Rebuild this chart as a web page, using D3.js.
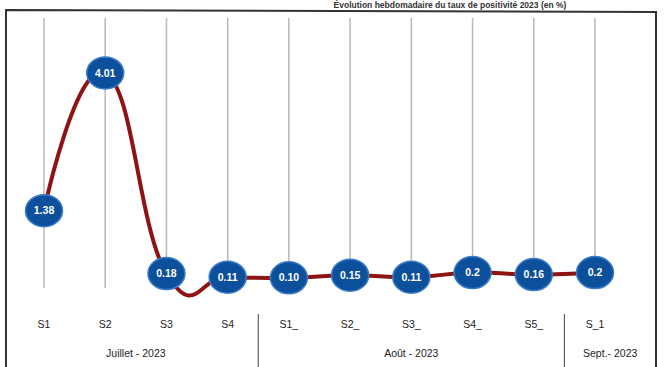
<!DOCTYPE html>
<html><head><meta charset="utf-8">
<script src="https://cdn.jsdelivr.net/npm/d3@7"></script>
<style>body{margin:0;background:#fff}svg{display:block}</style>
</head><body>
<svg id="c" width="665" height="367"></svg>
<script>
const categories = ["S1","S2","S3","S4","S1_","S2_","S3_","S4_","S5_","S_1"];
const values = [1.38, 4.01, 0.18, 0.11, 0.10, 0.15, 0.11, 0.2, 0.16, 0.2];
const valueLabels = ["1.38","4.01","0.18","0.11","0.10","0.15","0.11","0.2","0.16","0.2"];
const groups = ["Juillet - 2023","Août - 2023","Sept.- 2023"];
const groupStarts = [0, 4, 9];
const groupEnds = [3, 8, 9];
const titleText = "Évolution hebdomadaire du taux de positivité 2023 (en %)";

const svg = d3.select("#c");
const font = "'Liberation Sans', Arial, sans-serif";

const x = d3.scalePoint().domain(categories).range([44, 595]);
const step = x.step();
const y = d3.scaleLinear().domain([0, 4.2]).range([283, 63]);

// title (reference shows it mostly cut at the top)
svg.append("text").attr("x", 450).attr("y", 8).attr("text-anchor","middle")
  .attr("font-family", font).attr("font-size", 8.5).attr("font-weight","bold")
  .attr("fill","#333").text(titleText);

// frame
svg.append("path").attr("d","M6,367 L6,10 L656,12 L656,367")
  .attr("fill","none").attr("stroke","#333").attr("stroke-width",2);

// grid lines
svg.append("g").selectAll("line").data(categories).join("line")
  .attr("x1", d => x(d)).attr("x2", d => x(d))
  .attr("y1", 18).attr("y2", 288)
  .attr("stroke","#b8b8b8").attr("stroke-width",1.5);

// line
const line = d3.line().x((d,i)=>x(categories[i])).y(d=>y(d)).curve(d3.curveCardinal.tension(-0.4));
svg.append("path").datum(values).attr("d", line)
  .attr("fill","none").attr("stroke","#8e1414").attr("stroke-width",4);

// markers
const m = svg.append("g").selectAll("g").data(values).join("g")
  .attr("transform",(d,i)=>`translate(${x(categories[i])},${y(d)})`);
m.append("ellipse").attr("rx",18.5).attr("ry",16)
  .attr("fill","#0c4f9a").attr("stroke","#3a7cc8").attr("stroke-width",1.5);
m.append("text").attr("text-anchor","middle").attr("dy","0.35em")
  .attr("font-family",font).attr("font-size",10.5).attr("font-weight","bold").attr("fill","#fff")
  .text((d,i)=>valueLabels[i]);

// x axis category labels
svg.append("g").selectAll("text").data(categories).join("text")
  .attr("x", d => x(d)).attr("y", 328).attr("text-anchor","middle")
  .attr("font-family",font).attr("font-size",10.5).attr("fill","#222")
  .text(d=>d);

// group separators
const seps = groupStarts.slice(1).map(i => x(categories[i]) - step/2);
svg.append("g").selectAll("line").data(seps).join("line")
  .attr("x1",d=>d).attr("x2",d=>d).attr("y1",314).attr("y2",367)
  .attr("stroke","#444").attr("stroke-width",1);

// group labels
svg.append("g").selectAll("text").data(groups).join("text")
  .attr("x",(d,i)=> i===groups.length-1 ? (seps[seps.length-1]+656)/2 : (x(categories[groupStarts[i]])+x(categories[groupEnds[i]]))/2)
  .attr("y",357).attr("text-anchor","middle")
  .attr("font-family",font).attr("font-size",10.5).attr("fill","#222")
  .text(d=>d);
</script>
</body></html>
